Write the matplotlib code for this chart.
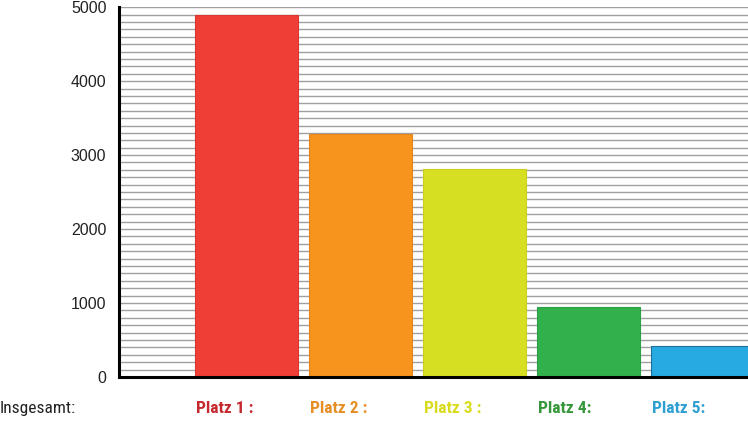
import matplotlib.pyplot as plt
from matplotlib import font_manager
from matplotlib.transforms import blended_transform_factory

places = ['Platz 1 :', 'Platz 2 :', 'Platz 3 :', 'Platz 4:', 'Platz 5:']
values = [4890, 3285, 2810, 945, 420]
bar_colors = ['#ef3e36', '#f7941d', '#d7df23', '#31b04b', '#27aae1']
label_colors = ['#c5282e', '#e58f26', '#d9dc1e', '#36963a', '#2e9fd2']
y_ticks = [0, 1000, 2000, 3000, 4000, 5000]


def pick_font(candidates, weight):
    fonts = font_manager.fontManager.ttflist
    for name in candidates:
        if any(f.name == name and f.weight >= weight for f in fonts):
            return name
    return 'DejaVu Sans'


bold_narrow = pick_font(['Roboto Condensed', 'Archivo Narrow', 'Fira Sans Condensed',
                         'Barlow Semi Condensed'], 700)
reg_narrow = pick_font(['Roboto Condensed', 'Archivo Narrow', 'Fira Sans Condensed',
                        'Barlow Semi Condensed'], 400)
plt.rcParams['font.family'] = ['Liberation Sans', 'DejaVu Sans']

fig = plt.figure(figsize=(7.48, 4.21), dpi=100)
ax = fig.add_axes([0.159, 0.1045, 0.841, 0.8785])

x = list(range(1, len(values) + 1))
ax.bar(x, values, width=0.9, color=bar_colors,
       edgecolor=['#d9372f', '#e4871a', '#c8cf20', '#2c9f44', '#1f6f96'],
       linewidth=0.8, zorder=3)

ax.set_xlim(-0.118, 5.399)
ax.set_ylim(0, 5000)
ax.set_yticks(range(0, 5001, 100), minor=True)
ax.set_yticks(y_ticks)
ax.set_yticklabels([str(t) for t in y_ticks], fontsize=11.5, color='#222222')
ax.tick_params(axis='y', which='both', length=0, pad=9)
ax.set_xticks([])
ax.grid(axis='y', which='both', color='#a0a0a0', linewidth=1.0, zorder=0)

for s in ['top', 'right']:
    ax.spines[s].set_visible(False)
ax.spines['left'].set_linewidth(2.2)
ax.spines['bottom'].set_linewidth(2.2)
ax.spines['left'].set_zorder(4)
ax.spines['bottom'].set_zorder(4)

trans = blended_transform_factory(ax.transData, fig.transFigure)
for xi, name, c in zip(x, places, label_colors):
    ax.text(xi - 0.44, 0.03, name, transform=trans, ha='left', va='center',
            fontsize=12.5, fontweight='bold', color=c, family=[bold_narrow, 'DejaVu Sans'])

fig.text(0.0, 0.03, 'Insgesamt:', ha='left', va='center', fontsize=12.5,
         color='#222222', family=[reg_narrow, 'DejaVu Sans'])

fig.savefig('out.png', dpi=100)
